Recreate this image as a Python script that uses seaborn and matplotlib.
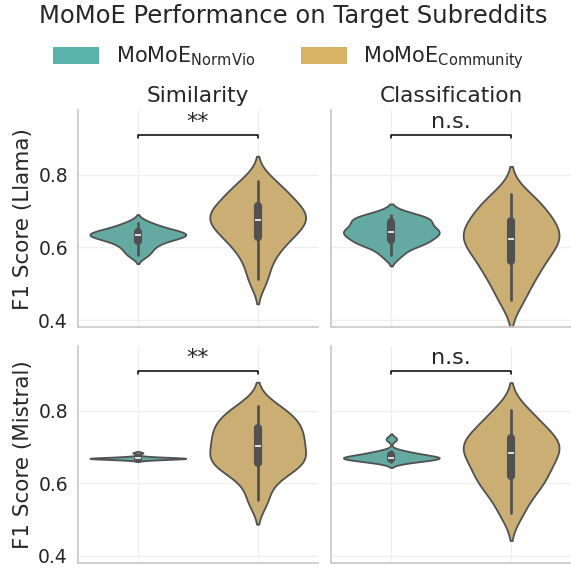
import numpy as np
import pandas as pd
import matplotlib
matplotlib.use("Agg")
import matplotlib.pyplot as plt
import seaborn as sns
from matplotlib.patches import Patch

# ------------------------------------------------------------
# Data (F1 scores per target subreddit)
# ------------------------------------------------------------
methods = ["NormVio", "Community"]
tasks = ["Similarity", "Classification"]
models = ["Llama", "Mistral"]
colors = ["#5ab4ac", "#d8b365"]
sig_labels = [["**", "n.s."], ["**", "n.s."]]

llama_sim_normvio = [0.578, 0.592, 0.604, 0.613, 0.620, 0.626, 0.630, 0.633,
                     0.635, 0.638, 0.641, 0.645, 0.650, 0.658, 0.668]
llama_sim_community = [0.513, 0.565, 0.598, 0.620, 0.638, 0.652, 0.665, 0.676,
                       0.686, 0.696, 0.708, 0.722, 0.740, 0.760, 0.783]
llama_cls_normvio = [0.579, 0.603, 0.612, 0.617, 0.622, 0.636, 0.640, 0.643,
                     0.646, 0.652, 0.666, 0.673, 0.677, 0.684, 0.690]
llama_cls_community = [0.454, 0.500, 0.530, 0.552, 0.575, 0.595, 0.610, 0.623,
                       0.635, 0.648, 0.665, 0.680, 0.700, 0.722, 0.746]
mistral_sim_normvio = [0.664, 0.666, 0.667, 0.667, 0.668, 0.668, 0.669, 0.669,
                       0.669, 0.670, 0.670, 0.671, 0.672, 0.674, 0.684]
mistral_sim_community = [0.554, 0.610, 0.638, 0.652, 0.662, 0.670, 0.685, 0.704,
                         0.718, 0.730, 0.745, 0.760, 0.775, 0.792, 0.812]
mistral_cls_normvio = [0.658, 0.661, 0.664, 0.666, 0.668, 0.670, 0.671, 0.671,
                       0.672, 0.674, 0.676, 0.682, 0.685, 0.688, 0.722]
mistral_cls_community = [0.517, 0.565, 0.592, 0.610, 0.628, 0.648, 0.665, 0.683,
                         0.695, 0.705, 0.718, 0.732, 0.750, 0.775, 0.803]

scores = {
    ("Llama", "Similarity", "NormVio"): llama_sim_normvio,
    ("Llama", "Similarity", "Community"): llama_sim_community,
    ("Llama", "Classification", "NormVio"): llama_cls_normvio,
    ("Llama", "Classification", "Community"): llama_cls_community,
    ("Mistral", "Similarity", "NormVio"): mistral_sim_normvio,
    ("Mistral", "Similarity", "Community"): mistral_sim_community,
    ("Mistral", "Classification", "NormVio"): mistral_cls_normvio,
    ("Mistral", "Classification", "Community"): mistral_cls_community,
}

rows = []
for (model, task, method), vals in scores.items():
    for v in vals:
        rows.append({"model": model, "task": task, "method": method, "score": v})
df = pd.DataFrame(rows)

# ------------------------------------------------------------
# Plot
# ------------------------------------------------------------
sns.set_theme(style="whitegrid")
plt.rcParams["font.family"] = ["DejaVu Sans"]
plt.rcParams["grid.color"] = "#efefef"
plt.rcParams["axes.edgecolor"] = "#cccccc"
plt.rcParams["axes.linewidth"] = 1.3

fig, axes = plt.subplots(2, 2, figsize=(5.71, 5.68), dpi=100, sharex=True, sharey=True)
fig.subplots_adjust(left=0.1366, right=1.0, top=0.806, bottom=0.009,
                    wspace=0.058, hspace=0.088)

for i, model in enumerate(models):
    for j, task in enumerate(tasks):
        ax = axes[i, j]
        sub = df[(df["model"] == model) & (df["task"] == task)]
        sns.violinplot(data=sub, x="method", y="score", hue="method",
                       order=methods, hue_order=methods, palette=colors,
                       density_norm="width", inner="box", linewidth=1.3,
                       bw_adjust=0.8, legend=False, ax=ax)

        # significance bracket
        ax.plot([0, 0, 1, 1], [0.902, 0.91, 0.91, 0.902], color="black", lw=1.1)
        ax.text(0.5, 0.918, sig_labels[i][j], ha="center", va="bottom", fontsize=16)

        ax.set_ylim(0.381, 0.978)
        ax.set_xlim(-0.5, 1.5)
        ax.set_yticks([0.4, 0.6, 0.8])
        ax.set_xlabel("")
        ax.set_xticklabels([])
        ax.tick_params(axis="y", labelsize=13.5, length=0, pad=7.2)
        ax.tick_params(axis="x", length=0)
        ax.grid(True, color="#efefef", lw=0.9)
        sns.despine(ax=ax)

        if j == 0:
            ax.set_ylabel(f"F1 Score ({model})", fontsize=15.5, labelpad=4)
        else:
            ax.set_ylabel("")
        if i == 0:
            ax.set_title(task, fontsize=15.6, pad=6)

handles = [Patch(facecolor=c, edgecolor="none") for c in colors]
labels = [r"MoMoE$_{\mathrm{NormVio}}$", r"MoMoE$_{\mathrm{Community}}$"]
fig.legend(handles, labels, loc="center", bbox_to_anchor=(0.506, 0.898), ncol=2,
           frameon=False, fontsize=15, handlelength=2.2, handleheight=0.85,
           handletextpad=0.8, columnspacing=2.2)

fig.suptitle("MoMoE Performance on Target Subreddits", x=0.514, y=0.993,
             fontsize=17.5, color="#262626")

plt.savefig("out.png", dpi=100)
